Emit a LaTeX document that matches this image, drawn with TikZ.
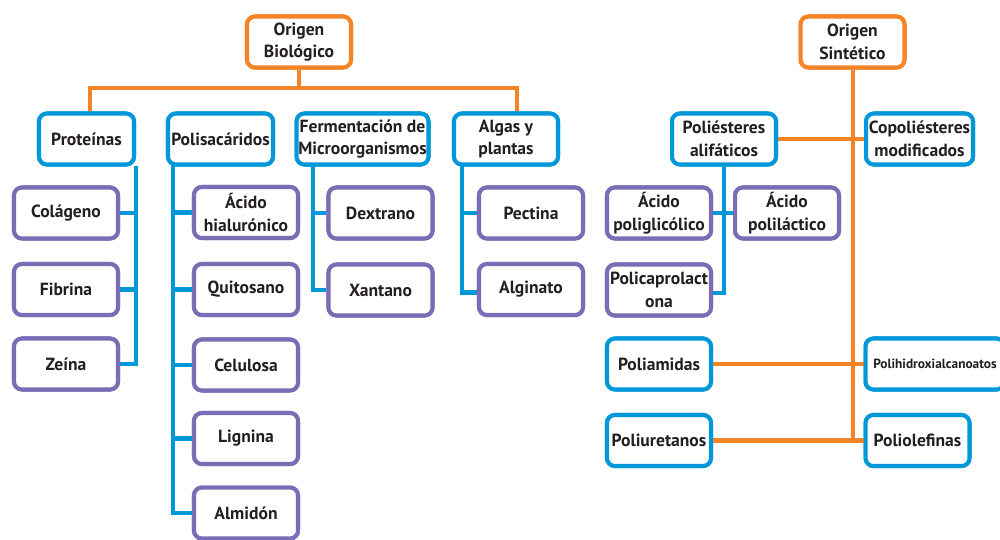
\documentclass[tikz,border=0pt]{standalone}
\usepackage{fontspec}
\setmainfont{PT Sans}
\definecolor{orng}{HTML}{F58426}
\definecolor{blu}{HTML}{0098D8}
\definecolor{purp}{HTML}{7A6DB5}
\definecolor{txt}{HTML}{231F20}
\begin{document}
\begin{tikzpicture}[x=0.02cm,y=-0.02cm,
  base/.style={rounded corners=4.5pt,line width=2.3pt,fill=white,align=center,
    inner sep=1pt,font=\bfseries\fontsize{10}{13}\selectfont,text=txt,
    minimum width=2.08cm,minimum height=1.02cm},
  obox/.style={base,draw=orng},
  bbox/.style={base,draw=blu},
  pbox/.style={base,draw=purp},
  oline/.style={draw=orng,line width=2.3pt},
  bline/.style={draw=blu,line width=2.3pt}]
\useasboundingbox (0,0) rectangle (1000,539);

% ---------- Origen Biologico ----------
\node[obox] (ob) at (299,42) {Origen\\Biológico};
\node[bbox,minimum width=1.9cm] (prot) at (86.5,139) {Proteínas};
\node[bbox,minimum width=2.1cm] (pols) at (220.5,139) {Polisacáridos};
\node[bbox,minimum width=2.62cm] (ferm) at (362.5,139) {Fermentación de\\Microorganismos};
\node[bbox] (alga) at (506,139) {Algas y\\plantas};

\node[pbox] (col) at (66,213) {Colágeno};
\node[pbox] (fib) at (66,289.5) {Fibrina};
\node[pbox] (zei) at (66,364) {Zeína};

\node[pbox] (hia) at (246,212.5) {Ácido\\hialurónico};
\node[pbox] (qui) at (246,289.5) {Quitosano};
\node[pbox] (cel) at (246,365) {Celulosa};
\node[pbox] (lig) at (246,438.5) {Lignina};
\node[pbox] (alm) at (246,513) {Almidón};

\node[pbox] (dex) at (380.5,213) {Dextrano};
\node[pbox] (xan) at (380.5,290) {Xantano};

\node[pbox] (pec) at (531,213) {Pectina};
\node[pbox] (alg) at (531,289.5) {Alginato};

\coordinate (bar) at (299,88);
\coordinate (tp) at (136,166);
\coordinate (tq) at (173,166);
\coordinate (tf) at (313,166);
\coordinate (ta) at (462,166);

\begin{scope}[on background layer/.try]
\draw[oline] (ob.south) -- (bar);
\draw[oline] (prot.north -| 90,0) |- (bar) -| (alga.north -| 517,0);
\draw[oline] (pols.north -| 223,0) -- (pols.north -| 223,0 |- bar);
\draw[oline] (ferm.north -| 359,0) -- (ferm.north -| 359,0 |- bar);

\draw[bline] (tp) |- (zei.east);
\draw[bline] (col.east) -- (col.east -| tp);
\draw[bline] (fib.east) -- (fib.east -| tp);

\draw[bline] (tq) |- (alm.west);
\draw[bline] (hia.west) -- (hia.west -| tq);
\draw[bline] (qui.west) -- (qui.west -| tq);
\draw[bline] (cel.west) -- (cel.west -| tq);
\draw[bline] (lig.west) -- (lig.west -| tq);

\draw[bline] (tf) |- (xan.west);
\draw[bline] (dex.west) -- (dex.west -| tf);

\draw[bline] (ta) |- ([yshift=-0.06cm]alg.west);
\draw[bline] (pec.west) -- (pec.west -| ta);
\end{scope}

% ---------- Origen Sintetico ----------
\node[obox] (os) at (852.5,42) {Origen\\Sintético};
\node[bbox] (pale) at (724,139) {Poliésteres\\alifáticos};
\node[bbox,minimum width=2.14cm] (copo) at (919.5,139) {Copoliésteres\\modificados};
\node[pbox] (pgl) at (659,213) {Ácido\\poliglicólico};
\node[pbox] (pla) at (787,213) {Ácido\\poliláctico};
\node[pbox] (pcl) at (659,290) {Policaprolact\\ona};
\node[bbox] (pam) at (659,364) {Poliamidas};
\node[bbox,minimum width=2.78cm,font=\bfseries\fontsize{7.6}{9}\selectfont] (pha) at (935,364) {Polihidroxialcanoatos};
\node[bbox] (pur) at (659,440.5) {Poliuretanos};
\node[bbox] (pol) at (917.5,440.5) {Poliolefinas};

\coordinate (ts) at (853,441);
\coordinate (tb) at (724,293);

\draw[oline] (os.south -| ts) -- (ts);
\draw[oline] (pale.east) -- (copo.west);
\draw[oline] (pam.east) -- (pha.west);
\draw[oline] (pur.east) -- (pol.west);

\draw[bline] (pale.south) -- (tb) -- (tb -| pcl.east);
\draw[bline] (pgl.east) -- (pla.west);

% redraw boxes on top of connectors
\node[obox] at (ob) {Origen\\Biológico};
\node[obox] at (os) {Origen\\Sintético};
\node[bbox,minimum width=1.9cm] at (prot) {Proteínas};
\node[bbox,minimum width=2.1cm] at (pols) {Polisacáridos};
\node[bbox,minimum width=2.62cm] at (ferm) {Fermentación de\\Microorganismos};
\node[bbox] at (alga) {Algas y\\plantas};
\node[bbox] at (pale) {Poliésteres\\alifáticos};
\node[bbox,minimum width=2.14cm] at (copo) {Copoliésteres\\modificados};
\node[pbox] at (pgl) {Ácido\\poliglicólico};
\node[pbox] at (pla) {Ácido\\poliláctico};
\node[pbox] at (pcl) {Policaprolact\\ona};
\node[bbox] at (pam) {Poliamidas};
\node[bbox,minimum width=2.78cm,font=\bfseries\fontsize{7.6}{9}\selectfont] at (pha) {Polihidroxialcanoatos};
\node[bbox] at (pur) {Poliuretanos};
\node[bbox] at (pol) {Poliolefinas};
\node[pbox] at (col) {Colágeno};
\node[pbox] at (fib) {Fibrina};
\node[pbox] at (zei) {Zeína};
\node[pbox] at (hia) {Ácido\\hialurónico};
\node[pbox] at (qui) {Quitosano};
\node[pbox] at (cel) {Celulosa};
\node[pbox] at (lig) {Lignina};
\node[pbox] at (alm) {Almidón};
\node[pbox] at (dex) {Dextrano};
\node[pbox] at (xan) {Xantano};
\node[pbox] at (pec) {Pectina};
\node[pbox] at (alg) {Alginato};
\end{tikzpicture}
\end{document}
